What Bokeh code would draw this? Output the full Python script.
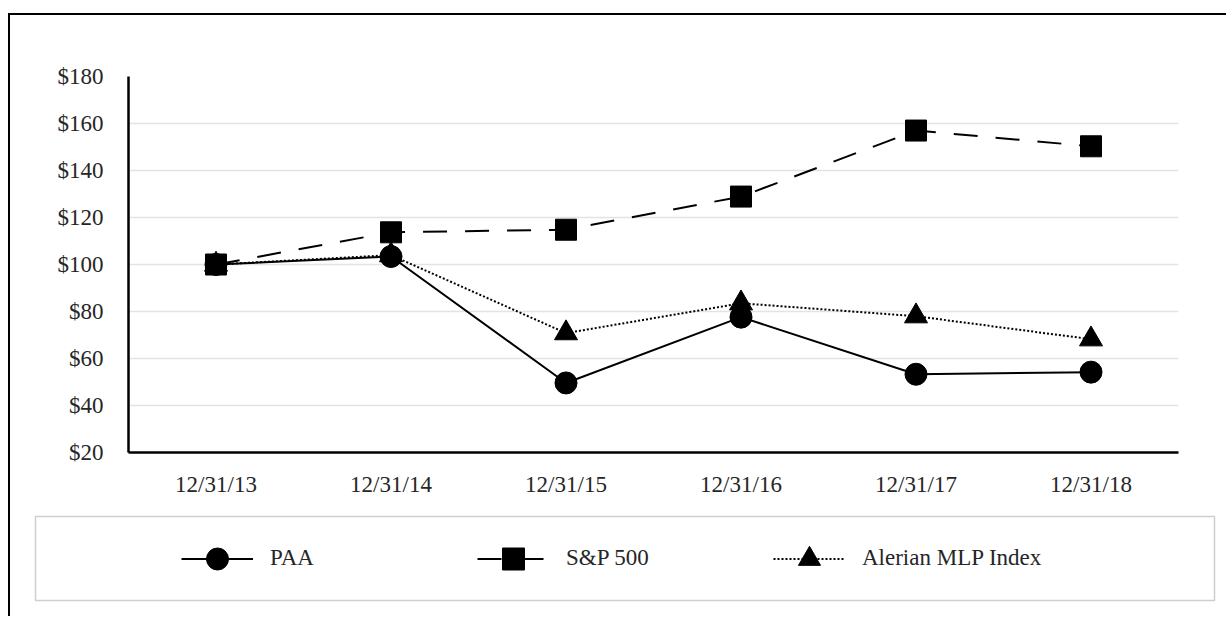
from bokeh.plotting import figure
from bokeh.layouts import column, row
from bokeh.models import (FactorRange, Range1d, FixedTicker, NumeralTickFormatter,
                          Legend, LegendItem, ColumnDataSource)
from bokeh.embed import file_html
from bokeh.resources import INLINE

# ---- data ----
dates = ["12/31/13", "12/31/14", "12/31/15", "12/31/16", "12/31/17", "12/31/18"]
paa = [100, 103.4, 49.6, 77.6, 53.3, 54.2]
sp500 = [100, 113.7, 114.8, 128.9, 157.0, 150.3]
alerian = [100, 104.0, 70.8, 83.5, 78.0, 68.2]
y_ticks = [20, 40, 60, 80, 100, 120, 140, 160, 180]
series_names = ["PAA", "S&P 500", "Alerian MLP Index"]

FONT = "Liberation Serif"
TXT = "#262626"

src = ColumnDataSource(data=dict(date=dates, paa=paa, sp=sp500, amz=alerian))


def add_series(fig):
    l_sp = fig.line("date", "sp", source=src, line_color="black", line_width=2, line_dash="24 18")
    l_am = fig.line("date", "amz", source=src, line_color="black", line_width=2, line_dash="2 2")
    l_pa = fig.line("date", "paa", source=src, line_color="black", line_width=2)
    s_sp = fig.scatter("date", "sp", source=src, marker="square", size=21,
                       fill_color="black", line_color="black")
    s_am = fig.scatter("date", "amz", source=src, marker="triangle", size=23,
                       fill_color="black", line_color="black")
    s_pa = fig.scatter("date", "paa", source=src, marker="circle", size=22,
                       fill_color="black", line_color="black")
    return [[l_pa, s_pa], [l_sp, s_sp], [l_am, s_am]]


# ---------------- main chart ----------------
p = figure(width=1216, height=485, title=None,
           x_range=FactorRange(factors=dates), y_range=Range1d(20, 180),
           output_backend="svg", toolbar_location=None,
           min_border_left=118, min_border_right=48,
           min_border_top=61, min_border_bottom=48)
p.background_fill_color = "white"
p.border_fill_color = "white"
p.outline_line_color = None

p.yaxis.ticker = FixedTicker(ticks=y_ticks)
p.yaxis.formatter = NumeralTickFormatter(format="$0")
for ax in (p.xaxis, p.yaxis):
    ax.axis_line_color = "black"
    ax.axis_line_width = 2.5
    ax.major_tick_line_color = None
    ax.minor_tick_line_color = None
    ax.major_tick_in = 0
    ax.major_tick_out = 0
    ax.minor_tick_in = 0
    ax.minor_tick_out = 0
    ax.major_label_text_font = FONT
    ax.major_label_text_font_size = "23px"
    ax.major_label_text_color = TXT
p.yaxis.major_label_standoff = 25
p.xaxis.major_label_standoff = 19

p.xgrid.grid_line_color = None
p.ygrid.grid_line_color = "#e3e3e3"
p.ygrid.grid_line_width = 1.5

add_series(p)

# ---------------- legend panel ----------------
pl = figure(width=1216, height=116, title=None,
            x_range=FactorRange(factors=dates), y_range=Range1d(5000, 5001),
            output_backend="svg", toolbar_location=None,
            x_axis_location=None, y_axis_location=None,
            min_border_left=25, min_border_right=12,
            min_border_top=16, min_border_bottom=16)
pl.background_fill_color = "white"
pl.border_fill_color = "white"
pl.outline_line_color = "#cfcfcf"
pl.outline_line_width = 1.5
pl.xgrid.grid_line_color = None
pl.ygrid.grid_line_color = None

legend_renderers = add_series(pl)
leg = Legend(items=[LegendItem(label=n, renderers=rs)
                    for n, rs in zip(series_names, legend_renderers)],
             location=(146, 14.5), orientation="horizontal",
             border_line_color=None, background_fill_alpha=0,
             padding=0, margin=0, spacing=117,
             glyph_width=72, glyph_height=55, label_standoff=17, label_width=90,
             label_text_font=FONT, label_text_font_size="23px", label_text_color=TXT)
pl.add_layout(leg)

page = column(row(p), row(pl), spacing=0,
              styles={"border-left": "2px solid black", "border-top": "2px solid black",
                      "margin-left": "8px", "margin-top": "13px"})

open("out.html", "w").write(file_html(page, INLINE))
